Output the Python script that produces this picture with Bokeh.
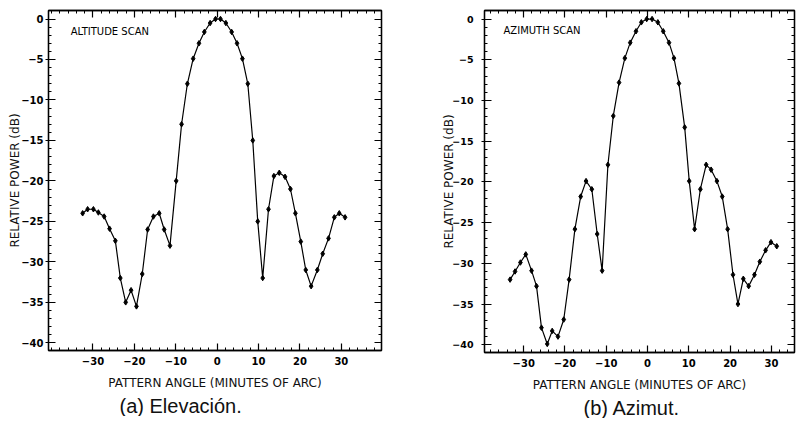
from bokeh.plotting import figure
from bokeh.layouts import row
from bokeh.models import LinearAxis, Range1d, Label, FixedTicker, Title, CustomLabelingPolicy, Spacer
from bokeh.embed import file_html
from bokeh.resources import INLINE

# ---------------- data ----------------
alt_x = [-32.5, -31.3, -29.9, -28.7, -27.3, -26.0, -24.6, -23.4, -22.1, -20.8,
         -19.5, -18.1, -16.8, -15.4, -14.0, -12.8, -11.4, -9.9, -8.6, -7.2,
         -5.8, -4.4, -3.1, -1.7, -0.4, 0.8, 2.1, 3.5, 4.8, 6.1,
         7.4, 8.6, 9.8, 11.0, 12.4, 13.7, 15.0, 16.4, 17.7, 18.9,
         20.2, 21.4, 22.7, 24.2, 25.5, 26.9, 28.3, 29.5, 30.9]
alt_y = [-24.0, -23.5, -23.5, -23.9, -24.4, -25.9, -27.4, -32.0, -35.0, -33.5,
         -35.5, -31.5, -26.0, -24.4, -24.0, -26.0, -28.0, -20.0, -13.0, -8.0,
         -4.9, -3.0, -1.6, -0.5, 0.0, 0.0, -0.5, -1.6, -3.0, -4.9,
         -8.0, -15.0, -25.0, -32.0, -23.5, -19.4, -19.0, -19.5, -21.0, -24.0,
         -27.5, -31.0, -33.0, -31.0, -29.0, -27.1, -24.5, -24.0, -24.5]

az_x = [-33.3, -32.1, -30.8, -29.5, -28.1, -26.9, -25.7, -24.3, -23.1, -21.7,
        -20.3, -19.0, -17.6, -16.2, -14.9, -13.5, -12.2, -11.0, -9.6, -8.3,
        -6.9, -5.5, -4.2, -2.8, -1.5, -0.2, 1.1, 2.5, 3.8, 5.2,
        6.4, 7.6, 9.0, 10.1, 11.4, 12.8, 14.2, 15.4, 16.8, 18.1,
        19.4, 20.7, 21.9, 23.2, 24.5, 25.9, 27.2, 28.6, 29.9, 31.3]
az_y = [-32.0, -31.0, -29.9, -28.9, -30.9, -32.8, -37.9, -39.9, -38.3, -39.0,
        -36.9, -32.0, -25.8, -21.8, -19.9, -20.9, -26.4, -30.9, -17.9, -11.9,
        -7.8, -4.8, -2.9, -1.5, -0.4, 0.0, 0.0, -0.4, -1.5, -2.9,
        -4.8, -7.9, -13.3, -19.9, -25.8, -20.9, -17.9, -18.5, -19.9, -21.8,
        -25.8, -31.4, -35.0, -31.9, -32.8, -31.4, -29.8, -28.4, -27.4, -27.9]

x_ticks = [-30, -20, -10, 0, 10, 20, 30]
x_minor = list(range(-40, 41, 2))
y_ticks = [0, -5, -10, -15, -20, -25, -30, -35, -40]
y_minor = list(range(-41, 2))

x_label = "PATTERN ANGLE (MINUTES OF ARC)"
y_label = "RELATIVE POWER (dB)"

TICK_FONT = "DejaVu Sans"
LABEL_FONT = "DejaVu Sans"


def style_axis(ax, ticks, minor, show_labels=True):
    ax.ticker = FixedTicker(ticks=ticks, minor_ticks=minor)
    ax.axis_line_color = "black"
    ax.axis_line_width = 1.3
    ax.major_tick_line_color = "black"
    ax.major_tick_line_width = 1.2
    ax.minor_tick_line_color = "black"
    ax.minor_tick_line_width = 1.0
    ax.major_tick_in = 7
    ax.minor_tick_in = 3
    ax.minor_tick_out = 0
    if show_labels:
        ax.major_label_text_font = TICK_FONT
        ax.major_label_text_font_style = "bold"
        ax.major_label_text_font_size = "10px"
        ax.major_label_text_color = "black"
        ax.axis_label_text_font = LABEL_FONT
        ax.axis_label_text_font_style = "normal"
        ax.axis_label_text_font_size = "12px"
        ax.axis_label_text_color = "#111111"
    else:
        ax.major_tick_out = 0
        ax.major_label_policy = CustomLabelingPolicy(
            code="for (const i of indices) { indices.unset(i) }\nreturn indices")
        ax.major_label_text_font_size = "1px"
        ax.major_label_standoff = 0
        ax.axis_label = None


def make_panel(xs, ys, scan_text, scan_x, scan_y, caption, x_start, x_end,
               fw, fh, border_left, border_right, ylab_standoff, ytick_standoff,
               ytick_size, cap_offset):
    p = figure(frame_width=fw, frame_height=fh,
               x_range=Range1d(x_start, x_end), y_range=Range1d(-40.95, 1.05),
               output_backend="svg", toolbar_location=None,
               min_border_left=border_left, min_border_right=border_right,
               min_border_top=10, min_border_bottom=0,
               background_fill_color="white", border_fill_color="white")
    p.grid.visible = False
    p.outline_line_color = "black"
    p.outline_line_width = 1.3

    xb = p.xaxis[0]
    style_axis(xb, x_ticks, x_minor)
    xb.major_tick_out = 0
    xb.major_label_standoff = 6
    xb.axis_label = x_label
    xb.axis_label_standoff = 8

    yl = p.yaxis[0]
    style_axis(yl, y_ticks, y_minor)
    yl.major_tick_out = 3
    yl.major_label_standoff = ytick_standoff
    yl.major_label_text_font_size = ytick_size
    yl.axis_label = y_label
    yl.axis_label_standoff = ylab_standoff

    top = LinearAxis()
    style_axis(top, x_ticks, x_minor, show_labels=False)
    p.add_layout(top, "above")
    right = LinearAxis()
    style_axis(right, y_ticks, y_minor, show_labels=False)
    p.add_layout(right, "right")

    p.line(xs, ys, line_color="black", line_width=1.2)
    p.scatter(xs, ys, marker="diamond", size=5.5, color="black")

    p.add_layout(Label(x=scan_x, y=scan_y, text=scan_text, text_font=LABEL_FONT,
                       text_font_size="10px", text_color="black",
                       text_baseline="middle", text_align="left"))

    p.add_layout(Title(text=caption, align="left", offset=cap_offset,
                       text_font="Liberation Sans", text_font_size="20px",
                       text_font_style="normal", text_color="#111111",
                       standoff=0), "below")
    return p


p1 = make_panel(alt_x, alt_y, "ALTITUDE SCAN", -35.4, -1.6, "(a) Elevación.",
                -40.75, 39.7, 333, 340, 30, 17, -4, 2, "10px", 71)
p2 = make_panel(az_x, az_y, "AZIMUTH SCAN", -34.9, -1.4, "(b) Azimut.",
                -39.5, 35.6, 310, 342, 86, 2, -7, 8, "9.5px", 99)

layout = row(Spacer(width=5, height=10), p1, p2, spacing=0)
open("out.html", "w").write(file_html(layout, INLINE))
